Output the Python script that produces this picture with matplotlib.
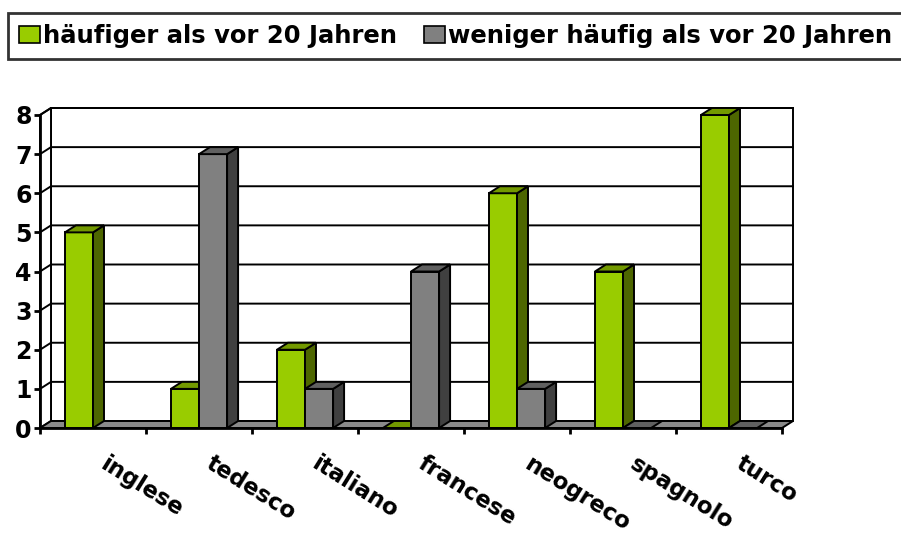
import matplotlib

matplotlib.use("Agg")
import matplotlib.pyplot as plt
import numpy as np
from matplotlib.patches import Patch, Polygon, Rectangle

categories = ["inglese", "tedesco", "italiano", "francese", "neogreco", "spagnolo", "turco"]
series_names = ["häufiger als vor 20 Jahren", "weniger häufig als vor 20 Jahren"]
more_often = [5, 1, 2, 0, 6, 4, 8]
less_often = [np.nan, 7, 1, 4, 1, 0, 0]
y_ticks = list(range(9))

# face colours per series: front, side, top
GREEN = ("#99CC00", "#4D6600", "#739900")
GREY = ("#808080", "#404040", "#606060")
FLOOR = "#8a8a8a"
LW = 1.4

plt.rcParams["font.family"] = "DejaVu Sans"
plt.rcParams["font.weight"] = "bold"

W, H = 901, 535
fig = plt.figure(figsize=(W / 100, H / 100), dpi=100)
ax = fig.add_axes([40 / W, 107 / H, 742 / W, 313 / H])
n = len(categories)
ymax = y_ticks[-1]
ax.set_xlim(0, n)
ax.set_ylim(0, ymax)

# depth offset of the pseudo-3D box, in data units
px_x = n / 742
px_y = ymax / 313
dx, dy = 11 * px_x, 7 * px_y


def poly(pts, fc, z):
    ax.add_patch(Polygon(pts, closed=True, facecolor=fc, edgecolor="black",
                         linewidth=LW, joinstyle="miter", clip_on=False, zorder=z))


# walls and floor
ax.add_patch(Rectangle((dx, dy), n, ymax, facecolor="white", edgecolor="black",
                       linewidth=LW, clip_on=False, zorder=0.5))
poly([(0, 0), (dx, dy), (dx, ymax + dy), (0, ymax)], "white", 0.6)
for v in y_ticks[1:]:
    ax.plot([0, dx, n + dx], [v, v + dy, v + dy], color="black", lw=LW,
            clip_on=False, zorder=0.7, solid_joinstyle="miter")
poly([(0, 0), (n, 0), (n + dx, dy), (dx, dy)], FLOOR, 0.8)

# bars
bw = 0.265
start = (1 - 2 * bw) / 2
z = 1.0
for i in range(n):
    for j, (vals, cols) in enumerate([(more_often, GREEN), (less_often, GREY)]):
        v = vals[i]
        if np.isnan(v):
            continue
        x0 = i + start + j * bw
        x1 = x0 + bw
        front, side, top = cols
        if v > 0:
            poly([(x0, 0), (x1, 0), (x1, v), (x0, v)], front, z)
            poly([(x1, 0), (x1 + dx, dy), (x1 + dx, v + dy), (x1, v)], side, z + 0.01)
        poly([(x0, v), (x1, v), (x1 + dx, v + dy), (x0 + dx, v + dy)], top, z + 0.02)
        z += 0.05

# front axes
for s in ["top", "right"]:
    ax.spines[s].set_visible(False)
for s in ["left", "bottom"]:
    ax.spines[s].set_linewidth(2)
    ax.spines[s].set_zorder(5)
ax.set_yticks(y_ticks)
ax.set_yticklabels([str(t) for t in y_ticks], fontsize=17, fontweight="bold")
ax.set_xticks(range(n + 1))
ax.set_xticklabels([])
ax.tick_params(axis="both", length=4, width=2, direction="out", pad=2)

for i, name in enumerate(categories):
    ax.text(i + 0.5 + 15 * px_x, -24 * px_y, name, rotation=-32, rotation_mode="anchor",
            ha="left", va="top", fontsize=16.5, fontweight="bold", clip_on=False)

handles = [Patch(facecolor=GREEN[0], edgecolor="black", linewidth=1.2),
           Patch(facecolor=GREY[0], edgecolor="black", linewidth=1.2)]
leg = fig.legend(handles, series_names, loc="upper left", bbox_to_anchor=(8 / W, 1 - 13 / H),
                 ncol=2, fontsize=17.5, frameon=True, fancybox=False, handlelength=0.85,
                 handleheight=0.75, handletextpad=0.15, columnspacing=1.1, borderpad=0.45,
                 borderaxespad=0)
leg.get_frame().set_edgecolor("black")
leg.get_frame().set_linewidth(2)
for t in leg.get_texts():
    t.set_fontweight("bold")

fig.savefig("out.png", dpi=100)
